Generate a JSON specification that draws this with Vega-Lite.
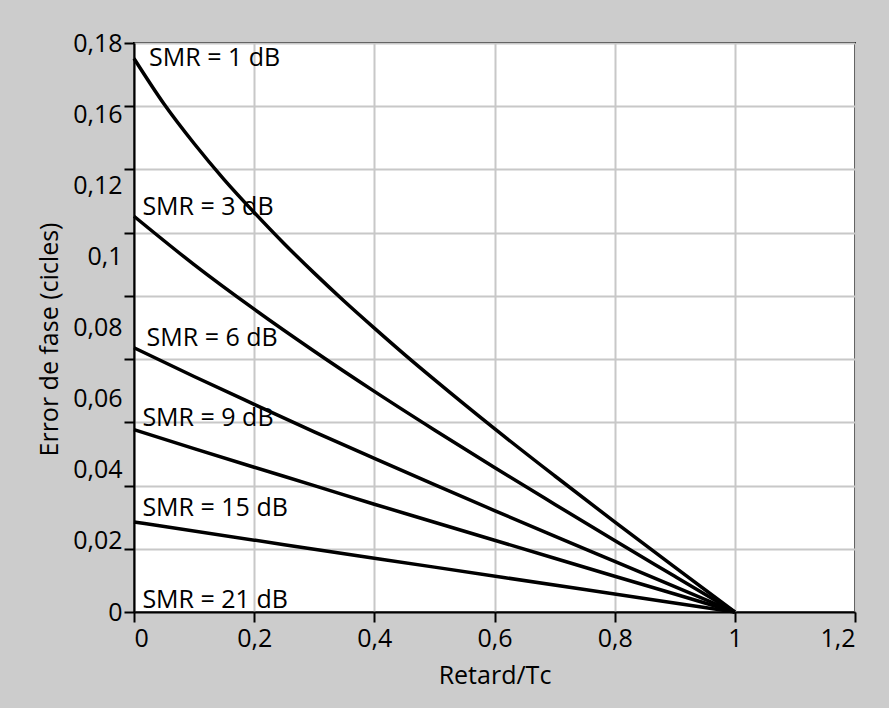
{
  "$schema": "https://vega.github.io/schema/vega-lite/v6.json",
  "width": 721,
  "height": 569,
  "autosize": {"type": "none"},
  "padding": {"left": 134, "top": 43, "right": 34, "bottom": 96},
  "background": "#cccccc",
  "config": {
    "font": "Open Sans",
    "view": {"fill": "white", "stroke": "black", "strokeWidth": 2},
    "axis": {
      "labelFont": "Open Sans", "labelFontSize": 25, "labelColor": "black",
      "titleFont": "Open Sans", "titleFontSize": 25, "titleFontWeight": "normal", "titleColor": "black",
      "domainColor": "black", "domainWidth": 2, "tickColor": "black", "tickWidth": 2,
      "gridColor": "#c8c8c8", "gridWidth": 2
    }
  },
  "datasets": {
    "curves": [
      {"smr": "1 dB", "tau": 0, "err": 0.1751},
      {"smr": "1 dB", "tau": 0.05, "err": 0.1607},
      {"smr": "1 dB", "tau": 0.1, "err": 0.1482},
      {"smr": "1 dB", "tau": 0.15, "err": 0.1368},
      {"smr": "1 dB", "tau": 0.2, "err": 0.1264},
      {"smr": "1 dB", "tau": 0.25, "err": 0.1165},
      {"smr": "1 dB", "tau": 0.3, "err": 0.1072},
      {"smr": "1 dB", "tau": 0.35, "err": 0.0983},
      {"smr": "1 dB", "tau": 0.4, "err": 0.0898},
      {"smr": "1 dB", "tau": 0.45, "err": 0.0815},
      {"smr": "1 dB", "tau": 0.5, "err": 0.0735},
      {"smr": "1 dB", "tau": 0.6, "err": 0.0580},
      {"smr": "1 dB", "tau": 0.7, "err": 0.0431},
      {"smr": "1 dB", "tau": 0.8, "err": 0.0285},
      {"smr": "1 dB", "tau": 0.9, "err": 0.0142},
      {"smr": "1 dB", "tau": 1, "err": 0},
      {"smr": "3 dB", "tau": 0, "err": 0.1252},
      {"smr": "3 dB", "tau": 0.1, "err": 0.1099},
      {"smr": "3 dB", "tau": 0.2, "err": 0.0958},
      {"smr": "3 dB", "tau": 0.3, "err": 0.0825},
      {"smr": "3 dB", "tau": 0.4, "err": 0.0698},
      {"smr": "3 dB", "tau": 0.5, "err": 0.0576},
      {"smr": "3 dB", "tau": 0.6, "err": 0.0457},
      {"smr": "3 dB", "tau": 0.7, "err": 0.0341},
      {"smr": "3 dB", "tau": 0.8, "err": 0.0226},
      {"smr": "3 dB", "tau": 0.9, "err": 0.0113},
      {"smr": "3 dB", "tau": 1, "err": 0},
      {"smr": "6 dB", "tau": 0, "err": 0.0836},
      {"smr": "6 dB", "tau": 0.1, "err": 0.0745},
      {"smr": "6 dB", "tau": 0.2, "err": 0.0657},
      {"smr": "6 dB", "tau": 0.3, "err": 0.0570},
      {"smr": "6 dB", "tau": 0.4, "err": 0.0486},
      {"smr": "6 dB", "tau": 0.5, "err": 0.0403},
      {"smr": "6 dB", "tau": 0.6, "err": 0.0321},
      {"smr": "6 dB", "tau": 0.7, "err": 0.0240},
      {"smr": "6 dB", "tau": 0.8, "err": 0.0160},
      {"smr": "6 dB", "tau": 0.9, "err": 0.0080},
      {"smr": "6 dB", "tau": 1, "err": 0},
      {"smr": "9 dB", "tau": 0, "err": 0.0577},
      {"smr": "9 dB", "tau": 0.1, "err": 0.0517},
      {"smr": "9 dB", "tau": 0.2, "err": 0.0458},
      {"smr": "9 dB", "tau": 0.3, "err": 0.0400},
      {"smr": "9 dB", "tau": 0.4, "err": 0.0341},
      {"smr": "9 dB", "tau": 0.5, "err": 0.0284},
      {"smr": "9 dB", "tau": 0.6, "err": 0.0227},
      {"smr": "9 dB", "tau": 0.7, "err": 0.0170},
      {"smr": "9 dB", "tau": 0.8, "err": 0.0113},
      {"smr": "9 dB", "tau": 0.9, "err": 0.0057},
      {"smr": "9 dB", "tau": 1, "err": 0},
      {"smr": "15 dB", "tau": 0, "err": 0.0285},
      {"smr": "15 dB", "tau": 0.25, "err": 0.0213},
      {"smr": "15 dB", "tau": 0.5, "err": 0.0142},
      {"smr": "15 dB", "tau": 0.75, "err": 0.0071},
      {"smr": "15 dB", "tau": 1, "err": 0}
    ],
    "labels": [
      {"label": "SMR = 1 dB", "tau": 0.025, "err": 0.1752},
      {"label": "SMR = 3 dB", "tau": 0.014, "err": 0.128},
      {"label": "SMR = 6 dB", "tau": 0.021, "err": 0.0868},
      {"label": "SMR = 9 dB", "tau": 0.014, "err": 0.0615},
      {"label": "SMR = 15 dB", "tau": 0.014, "err": 0.033},
      {"label": "SMR = 21 dB", "tau": 0.014, "err": 0.0038}
    ]
  },
  "layer": [
    {
      "data": {"name": "curves"},
      "mark": {"type": "line", "color": "black", "strokeWidth": 3.5, "interpolate": "monotone"},
      "encoding": {
        "x": {
          "field": "tau", "type": "quantitative",
          "scale": {"domain": [0, 1.2], "nice": false, "zero": false},
          "axis": {
            "values": [0, 0.2, 0.4, 0.6, 0.8, 1, 1.2],
            "labelExpr": "replace(toString(datum.value), '.', ',')",
            "tickSize": 10, "labelPadding": 4, "grid": true,
            "title": "Retard/Tc", "titlePadding": 12
          }
        },
        "y": {
          "field": "err", "type": "quantitative",
          "scale": {"domain": [0, 0.18], "nice": false, "zero": false},
          "axis": {
            "orient": "left",
            "values": [0, 0.02, 0.04, 0.06, 0.08, 0.1, 0.12, 0.14, 0.16, 0.18],
            "labels": false, "tickSize": 10, "grid": true, "title": null
          }
        },
        "detail": {"field": "smr"}
      }
    },
    {
      "data": {"name": "labels"},
      "mark": {"type": "text", "align": "left", "baseline": "middle", "fontSize": 25, "font": "Open Sans", "color": "black"},
      "encoding": {
        "x": {"field": "tau", "type": "quantitative"},
        "y": {
          "field": "err", "type": "quantitative",
          "axis": {
            "orient": "left",
            "values": [0, 0.0225, 0.045, 0.0675, 0.09, 0.1125, 0.135, 0.1575, 0.18],
            "labelExpr": "datum.value < 0.01 ? '0' : datum.value < 0.03 ? '0,02' : datum.value < 0.05 ? '0,04' : datum.value < 0.07 ? '0,06' : datum.value < 0.1 ? '0,08' : datum.value < 0.12 ? '0,1' : datum.value < 0.14 ? '0,12' : datum.value < 0.17 ? '0,16' : '0,18'",
            "ticks": false, "tickSize": 0, "domain": false, "grid": false,
            "labelPadding": 12,
            "title": "Error de fase (cicles)", "titlePadding": 10, "titleY": 296
          }
        },
        "text": {"field": "label"}
      }
    }
  ],
  "resolve": {"axis": {"y": "independent"}}
}
